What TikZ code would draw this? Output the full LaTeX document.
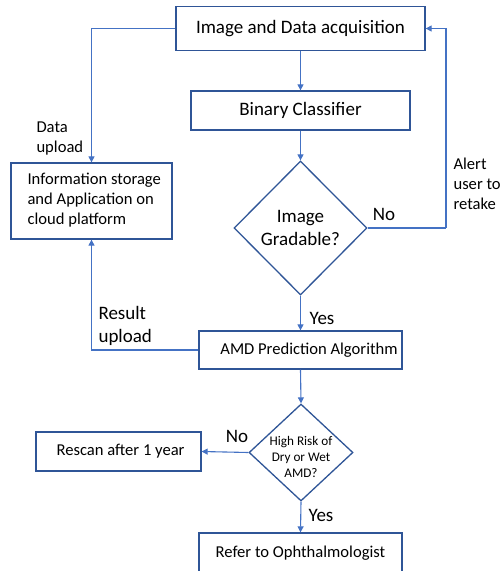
\documentclass[tikz,border=0pt]{standalone}
\usepackage{fontspec}
\setmainfont{Carlito}
\usetikzlibrary{shapes.geometric,arrows.meta}
\definecolor{linec}{HTML}{4472C4}
\definecolor{boxc}{HTML}{2F5597}
\tikzset{
  box/.style={draw=boxc, line width=1.3pt, rectangle, inner sep=0pt, fill=white},
  dia/.style={draw=boxc, line width=1.3pt, diamond, inner sep=0pt, fill=white},
  arr/.style={draw=linec, line width=1.1pt, -{Triangle[length=6pt,width=6pt]}},
  ln/.style={draw=linec, line width=1.1pt},
  big/.style={font=\fontsize{19}{23}\selectfont},
  mid/.style={font=\fontsize{16.6}{20}\selectfont},
  sml/.style={font=\fontsize{13.2}{16}\selectfont},
}
\begin{document}
\begin{tikzpicture}[x=1pt,y=-1pt]
\useasboundingbox (0,0) rectangle (499,571);
% boxes
\node[box, big, minimum width=249pt, minimum height=44pt] (acq) at (300.5,28.5) {Image and Data acquisition};
\node[box, big, minimum width=219pt, minimum height=39pt] (bin) at (300.5,110.5) {Binary Classifier};
\node[dia, big, align=center, minimum width=133pt, minimum height=134pt] (grad) at (300.5,228) {Image\\Gradable?};
\node[box, minimum width=161pt, minimum height=76pt] (info) at (91.5,201) {};
\node[mid, anchor=west, align=left] (infot) at (24,200) {Information storage\\and Application on\\cloud platform};
\node[box, minimum width=203pt, minimum height=38pt] (amd) at (300.5,350) {};
\node[mid] (amdt) at (309,350.5) {AMD Prediction Algorithm};
\node[dia, minimum width=104pt, minimum height=97pt] (risk) at (301,452.5) {};
\node[sml, align=center] (riskt) at (301,457) {High Risk of\\Dry or Wet\\AMD?};
\node[box, mid, minimum width=165pt, minimum height=39pt] (rescan) at (118.5,451.5) {\hspace{4pt}Rescan after 1 year};
\node[box, mid, minimum width=203pt, minimum height=40pt] (refer) at (300.5,553) {\raisebox{1pt}{Refer to Ophthalmologist}};
% connectors
\draw[arr] (acq.south) -- (bin.north);
\draw[arr] (bin.south) -- (grad.north);
\draw[arr] (acq.west) -| (info.north);
\coordinate (cr) at (446,228);
\draw[ln] (grad.east) -- (cr);
\draw[arr] (cr) |- (acq.east);
\draw[arr] (grad.south) -- (amd.north);
\draw[arr] (amd.west) -| (info.south);
\draw[arr] (amd.south) -- (risk.north);
\draw[arr] (risk.west) -- (rescan.east);
\draw[arr] (risk.south) -- (refer.north);
% labels
\node[mid, anchor=west, align=left] (ldata) at (33,139) {Data\\upload};
\node[mid, anchor=west, align=left] (lalert) at (450,184) {Alert\\user to\\retake};
\node[big] (lno1) at (384,214) {No};
\node[big] (lyes1) at (322,318) {Yes};
\node[big, anchor=west, align=left] (lres) at (95,326) {Result\\upload};
\node[big] (lno2) at (237,436) {No};
\node[big] (lyes2) at (321,515) {Yes};
\end{tikzpicture}
\end{document}
